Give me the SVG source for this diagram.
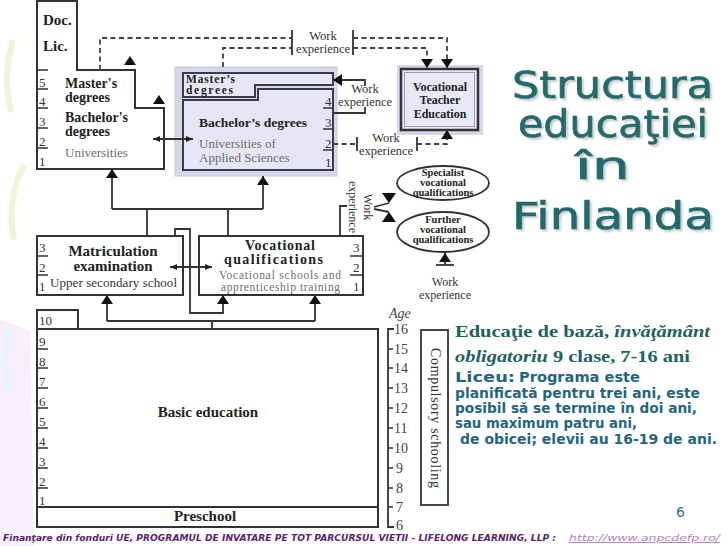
<svg xmlns="http://www.w3.org/2000/svg" width="728" height="546" viewBox="0 0 728 546">
<defs>
<style>
.ln{fill:none;stroke:#333;stroke-width:2}
.lnw{fill:#fff;stroke:#333;stroke-width:2}
.cn{fill:none;stroke:#333;stroke-width:1.8}
.dash{fill:none;stroke:#444;stroke-width:1.8;stroke-dasharray:5 3.5}
.tick{stroke:#333;stroke-width:1.5}
.b{font-family:"Liberation Serif","DejaVu Serif",serif;font-weight:bold;fill:#222}
.r{font-family:"Liberation Serif","DejaVu Serif",serif;fill:#333}
.g{font-family:"Liberation Serif","DejaVu Serif",serif;fill:#6e6e6e}
.n{font-family:"Liberation Serif","DejaVu Serif",serif;font-size:13px;fill:#333}
.age{font-family:"Liberation Serif","DejaVu Serif",serif;font-size:14px;fill:#444}
.t{font-family:"DejaVu Sans","Verdana",sans-serif;fill:#236a6c;stroke:#236a6c;stroke-width:0.7}
.ps{font-family:"Liberation Serif","DejaVu Serif",serif;font-weight:bold;font-size:17px;fill:#1d6262}
.pv{font-family:"DejaVu Sans",sans-serif;font-weight:bold;font-size:14px;fill:#1f6682}
.tri{fill:#111}
</style>
<filter id="sh" x="-5%" y="-20%" width="115%" height="150%"><feDropShadow dx="2" dy="2" stdDeviation="1" flood-color="#9aa8a8" flood-opacity="0.6"/></filter>
<marker id="ah" viewBox="0 0 9 12" refX="9" refY="6" markerWidth="9" markerHeight="12" markerUnits="userSpaceOnUse" orient="auto"><path d="M0,0 L9,6 L0,12 z" fill="#111"/></marker>
<marker id="as" viewBox="0 0 7 6" refX="7" refY="3" markerWidth="7" markerHeight="6" markerUnits="userSpaceOnUse" orient="auto-start-reverse"><path d="M0,0 L7,3 L0,6 z" fill="#222"/></marker>
</defs>
<rect width="728" height="546" fill="#fff"/>
<g id="decor" opacity="0.7">
<path d="M0,320 L30,330 L34,546 L0,546 Z" fill="#f3ebfa"/>
<path d="M13,40 Q2,75 11,112" fill="none" stroke="#e3f3c8" stroke-width="6"/>
<path d="M24,165 Q6,200 14,240" fill="none" stroke="#e3f3c8" stroke-width="6"/>
<path d="M10,330 Q1,360 9,392" fill="none" stroke="#e0eef8" stroke-width="5"/>
</g>

<g id="universities">
<polygon class="lnw" points="37,1 77,1 77,70 135,70 135,108 164,108 164,169 37,169"/>
<path class="tick" d="M37,70H48 M37,89H48 M37,108H48 M37,128H48 M37,148H48"/>
<text class="n" x="39" y="87">5</text><text class="n" x="39" y="106">4</text><text class="n" x="39" y="126">3</text><text class="n" x="39" y="146">2</text><text class="n" x="39" y="166">1</text>
<text class="b" font-size="15" x="43" y="25">Doc.</text>
<text class="b" font-size="15" x="43" y="51">Lic.</text>
<text class="b" font-size="14" x="65" y="88">Master's</text>
<text class="b" font-size="14" x="65" y="102">degrees</text>
<text class="b" font-size="14" x="65" y="122">Bachelor's</text>
<text class="b" font-size="14" x="65" y="136">degrees</text>
<text class="g" font-size="13" x="65" y="157">Universities</text>
<polygon class="tri" points="124,65 136,65 130,56"/>
<polygon class="tri" points="153,104 165,104 159,95"/>
</g>

<g id="uas">
<rect x="175" y="67" width="162" height="109" fill="#d7d7ec" stroke="#c6c6de" stroke-width="1"/>
<polygon points="183,73 333,73 333,85 255,85 255,97 183,97" fill="#e6e6f6" stroke="#3a3a48" stroke-width="2"/>
<polygon points="183,100 258,100 258,89 333,89 333,170 183,170" fill="#e6e6f6" stroke="#3a3a48" stroke-width="2"/>
<path class="tick" d="M323,108H333 M323,129H333 M323,150H333"/>
<text class="n" x="325" y="106">4</text><text class="n" x="325" y="127">3</text><text class="n" x="325" y="148">2</text><text class="n" x="325" y="167">1</text>
<text class="b" font-size="11.5" x="186" y="83" textLength="49">Master’s</text>
<text class="b" font-size="11.5" x="186" y="93.5" textLength="47">degrees</text>
<text class="b" font-size="13.5" x="199" y="127" textLength="108">Bachelor’s degrees</text>
<text class="g" font-size="13" x="199" y="148">Universities of</text>
<text class="g" font-size="13" x="199" y="162">Applied Sciences</text>
</g>

<g id="vte">
<rect x="397" y="65" width="86" height="70" fill="#d7d7ec"/>
<rect x="401" y="69" width="77" height="61" fill="#e8e8f6" stroke="#333" stroke-width="2.5"/>
<rect x="404.5" y="72.5" width="70" height="54" fill="none" stroke="#9a9ab0" stroke-width="1"/>
<text class="b" font-size="12" x="440" y="91" text-anchor="middle">Vocational</text>
<text class="b" font-size="12" x="440" y="104" text-anchor="middle">Teacher</text>
<text class="b" font-size="12" x="440" y="118" text-anchor="middle">Education</text>
</g>

<g id="specialist">
<ellipse cx="443" cy="183" rx="46" ry="17" fill="#fff" stroke="#333" stroke-width="1.8"/>
<text class="b" font-size="10.5" x="443" y="176" text-anchor="middle">Specialist</text>
<text class="b" font-size="10.5" x="443" y="186" text-anchor="middle">vocational</text>
<text class="b" font-size="10.5" x="443" y="196" text-anchor="middle">qualifications</text>
</g>
<g id="further">
<ellipse cx="443" cy="232" rx="46" ry="20" fill="#fff" stroke="#333" stroke-width="1.8"/>
<text class="b" font-size="10.5" x="443" y="223" text-anchor="middle">Further</text>
<text class="b" font-size="10.5" x="443" y="233" text-anchor="middle">vocational</text>
<text class="b" font-size="10.5" x="443" y="243" text-anchor="middle">qualifications</text>
</g>

<g id="matriculation">
<rect x="37" y="236" width="146" height="59" class="lnw"/>
<path class="tick" d="M37,256H48 M37,275H48"/>
<text class="n" x="39" y="252">3</text><text class="n" x="39" y="272">2</text><text class="n" x="39" y="291">1</text>
<text class="b" font-size="15" x="113" y="256" text-anchor="middle">Matriculation</text>
<text class="b" font-size="15" x="113" y="271" text-anchor="middle">examination</text>
<text class="r" font-size="13" x="50" y="287" textLength="127">Upper secondary school</text>
</g>

<g id="vocational-qualifications">
<rect x="199" y="236" width="164" height="59" class="lnw"/>
<path class="tick" d="M350,256H363 M350,275H363"/>
<text class="n" x="353" y="252">3</text><text class="n" x="353" y="272">2</text><text class="n" x="353" y="291">1</text>
<text class="b" font-size="14" x="280" y="250" text-anchor="middle" textLength="70">Vocational</text>
<text class="b" font-size="14" x="224" y="264" textLength="99">qualifications</text>
<text class="g" font-size="11.5" x="219" y="279" textLength="122">Vocational schools and</text>
<text class="g" font-size="11.5" x="221" y="290.5" textLength="119">apprenticeship training</text>
</g>

<g id="basic-education">
<rect x="37" y="310" width="41" height="19" class="lnw"/>
<rect x="37" y="329" width="341" height="198" class="lnw"/>
<path class="ln" d="M37,507H378"/>
<path class="tick" d="M37,349H48 M37,368H48 M37,388H48 M37,408H48 M37,428H48 M37,448H48 M37,468H48 M37,488H48"/>
<text class="n" x="39" y="325">10</text>
<text class="n" x="39" y="346">9</text><text class="n" x="39" y="366">8</text><text class="n" x="39" y="386">7</text><text class="n" x="39" y="406">6</text><text class="n" x="39" y="426">5</text><text class="n" x="39" y="446">4</text><text class="n" x="39" y="466">3</text><text class="n" x="39" y="486">2</text><text class="n" x="39" y="505">1</text>
<text class="b" font-size="15" x="208" y="417" text-anchor="middle">Basic education</text>
<text class="b" font-size="15" x="205" y="521" text-anchor="middle">Preschool</text>
</g>

<g id="age-axis">
<path class="cn" d="M394,329 H388 V527 H394"/>
<path class="tick" d="M388,349H393 M388,368H393 M388,388H393 M388,408H393 M388,428H393 M388,448H393 M388,468H393 M388,488H393 M388,507H393"/>
<text class="age" font-style="italic" x="389" y="318">Age</text>
<text class="age" x="394" y="334">16</text><text class="age" x="394" y="354">15</text><text class="age" x="394" y="373">14</text><text class="age" x="394" y="393">13</text><text class="age" x="394" y="413">12</text><text class="age" x="394" y="433">11</text><text class="age" x="394" y="453">10</text><text class="age" x="396" y="473">9</text><text class="age" x="396" y="493">8</text><text class="age" x="396" y="512">7</text><text class="age" font-size="13" x="396" y="530">6</text>
</g>

<g id="compulsory-schooling">
<rect x="421" y="330" width="27" height="175" fill="#fff" stroke="#333" stroke-width="1.8"/>
<text class="r" font-size="14" transform="translate(434.5,418) rotate(90)" text-anchor="middle" dy="4" textLength="140">Compulsory schooling</text>
</g>

<g id="connectors">
<path class="dash" d="M100,70 V38 H292"/>
<path class="dash" d="M353,38 H447 V68" marker-end="url(#ah)"/>
<path class="dash" d="M223,67 V48 H292"/>
<path class="dash" d="M353,48 H427 V68" marker-end="url(#ah)"/>
<path class="cn" d="M292,30 V55 M353,30 V55"/>
<text class="r" font-size="12.5" x="323" y="40" text-anchor="middle">Work</text>
<text class="r" font-size="12.5" x="323" y="53" text-anchor="middle">experience</text>

<path class="cn" d="M365,86 V80 H333" marker-end="url(#ah)"/>
<path class="cn" d="M333,113 H365 V107"/>
<text class="r" font-size="12.5" x="365" y="93" text-anchor="middle">Work</text>
<text class="r" font-size="12.5" x="365" y="106" text-anchor="middle">experience</text>

<path class="dash" d="M333,144 H357"/>
<path class="cn" d="M357,137 V151 M417,137 V151"/>
<path class="dash" d="M417,144 H447 V130" marker-end="url(#ah)"/>
<text class="r" font-size="12.5" x="386" y="142" text-anchor="middle">Work</text>
<text class="r" font-size="12.5" x="386" y="155" text-anchor="middle">experience</text>

<path class="cn" d="M153,139 H193" marker-start="url(#as)" marker-end="url(#as)"/>
<path class="cn" d="M170,267 H212" marker-start="url(#as)" marker-end="url(#as)"/>

<path class="cn" d="M112,209 V169" marker-end="url(#ah)"/>
<path class="cn" d="M263,209 V176" marker-end="url(#ah)"/>
<path class="cn" d="M112,209 H263 M147,236 V209 M228,236 V209"/>

<path class="cn" d="M175,236 V229 H190 V313 H223 V295" marker-end="url(#ah)"/>

<path class="cn" d="M212,329 V321 M107,321 H315"/>
<path class="cn" d="M107,321 V295" marker-end="url(#ah)"/>
<path class="cn" d="M315,321 V295" marker-end="url(#ah)"/>

<path class="cn" d="M340,236 V206 H347"/>
<text class="r" font-size="12" transform="translate(364,207) rotate(90)" text-anchor="middle">Work</text>
<text class="r" font-size="12" transform="translate(349,207) rotate(90)" text-anchor="middle">experience</text>
<path class="cn" d="M374,207 L389,203 M374,209 L389,212"/>
<polygon class="tri" points="382,193 396,193 389,203"/>
<polygon class="tri" points="382,222 396,222 389,212"/>

<path class="cn" d="M445,265 V253" marker-end="url(#ah)"/>
<path class="cn" d="M436,265 H454"/>
<text class="r" font-size="12" x="445" y="286" text-anchor="middle">Work</text>
<text class="r" font-size="12" x="445" y="299" text-anchor="middle">experience</text>
</g>

<g id="title" filter="url(#sh)">
<text class="t" font-size="37" x="512" y="98" textLength="201" lengthAdjust="spacingAndGlyphs">Structura</text>
<text class="t" font-size="37" x="518" y="137" textLength="190" lengthAdjust="spacingAndGlyphs">educaţiei</text>
<text class="t" font-size="37" x="575" y="179" textLength="55" lengthAdjust="spacingAndGlyphs">în</text>
<text class="t" font-size="37" x="512" y="229" textLength="202" lengthAdjust="spacingAndGlyphs">Finlanda</text>
</g>

<g id="description">
<text class="ps" x="455" y="337" textLength="255" lengthAdjust="spacingAndGlyphs">Educaţie de bază, <tspan font-style="italic">învăţământ</tspan></text>
<text class="ps" x="455" y="362" textLength="235" lengthAdjust="spacingAndGlyphs"><tspan font-style="italic">obligatoriu</tspan> 9 clase, 7-16 ani</text>
<text class="pv" font-size="18" x="455" y="382" textLength="60" lengthAdjust="spacingAndGlyphs">Liceu:</text>
<text class="pv" x="519" y="382" textLength="121" lengthAdjust="spacingAndGlyphs">Programa este</text>
<text class="pv" x="455" y="398" textLength="245" lengthAdjust="spacingAndGlyphs">planificată pentru trei ani, este</text>
<text class="pv" x="455" y="413" textLength="242" lengthAdjust="spacingAndGlyphs">posibil să se termine în doi ani,</text>
<text class="pv" x="455" y="428" textLength="182" lengthAdjust="spacingAndGlyphs">sau maximum patru ani,</text>
<text class="pv" x="460" y="444" textLength="257" lengthAdjust="spacingAndGlyphs">de obicei; elevii au 16-19 de ani.</text>
</g>

<g id="footer">
<text font-family="DejaVu Sans, sans-serif" font-size="14" fill="#2b6f8c" x="676" y="517">6</text>
<text font-family="DejaVu Sans, sans-serif" font-weight="bold" font-style="italic" font-size="9.5" fill="#5a1f6e" x="3" y="541" textLength="553" lengthAdjust="spacingAndGlyphs">Finanţare din fonduri UE,  PROGRAMUL DE INVATARE PE TOT PARCURSUL VIETII - LIFELONG LEARNING, LLP :</text>
<text font-family="DejaVu Sans, sans-serif" font-style="italic" font-size="9.5" fill="#b57cc8" text-decoration="underline" x="569" y="541" textLength="151" lengthAdjust="spacingAndGlyphs">http://www.anpcdefp.ro/</text>
</g>
</svg>
